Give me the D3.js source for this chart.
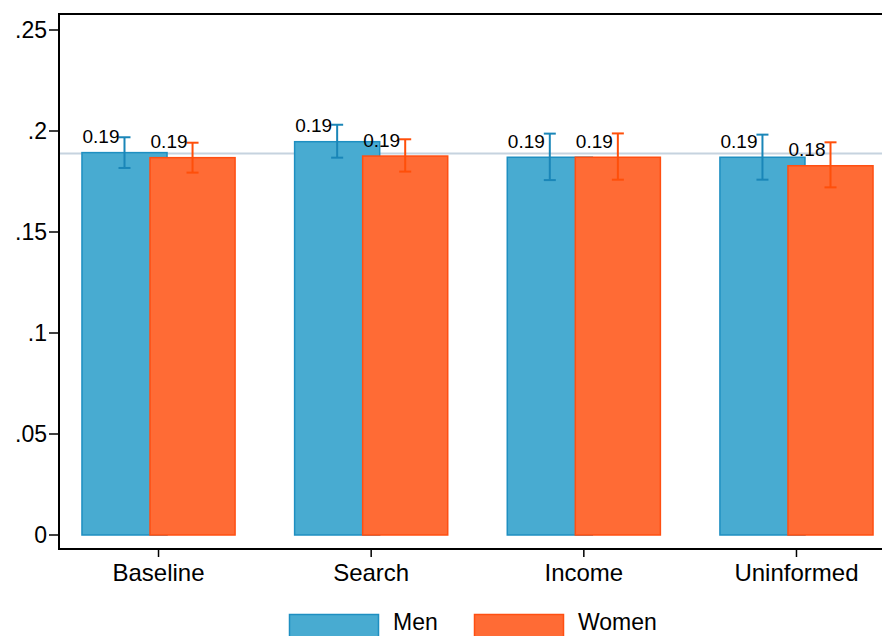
<!DOCTYPE html>
<html>
<head>
<meta charset="utf-8">
<script src="https://cdn.jsdelivr.net/npm/d3@7/dist/d3.min.js"></script>
<style>
  html, body { margin: 0; padding: 0; background: #fff; }
  svg { display: block; }
  text { font-family: "Liberation Sans", Arial, Helvetica, sans-serif; fill: #000; }
</style>
</head>
<body>
<svg id="chart" width="882" height="636"></svg>
<script>
// ---- data ----
const categories = ["Baseline", "Search", "Income", "Uninformed"];
const series = ["Men", "Women"];
const menMean  = [0.1893, 0.1947, 0.1870, 0.1870];
const menLo    = [0.1817, 0.1868, 0.1757, 0.1759];
const menHi    = [0.1969, 0.2031, 0.1987, 0.1982];
const womenMean = [0.1868, 0.1876, 0.1870, 0.1828];
const womenLo   = [0.1794, 0.1799, 0.1759, 0.1721];
const womenHi   = [0.1942, 0.1959, 0.1988, 0.1944];
const menLabels   = ["0.19", "0.19", "0.19", "0.19"];
const womenLabels = ["0.19", "0.19", "0.19", "0.18"];
const refLine = 0.1889;
const yTicks = [0, 0.05, 0.1, 0.15, 0.2, 0.25];
const yTickLabels = ["0", ".05", ".1", ".15", ".2", ".25"];

// ---- layout ----
const W = 882, H = 636;
const plot = { left: 59, right: 896, top: 14, bottom: 549 };
const colors = {
  Men:   { fill: "#48abd1", stroke: "#1e8fc1", err: "#1a86b8" },
  Women: { fill: "#ff6b35", stroke: "#ff4f12", err: "#ff4f0a" }
};

const svg = d3.select("#chart");

const x = d3.scalePoint().domain(categories).range([plot.left, plot.right]).padding(0.468);
const step = x.step();
const barW = step * 0.4;
const offset = { Men: -step * 0.16, Women: step * 0.16 };
const y = d3.scaleLinear().domain([0, 0.25]).range([535, 30]);

// reference line (behind bars)
svg.append("line")
  .attr("x1", plot.left).attr("x2", plot.right)
  .attr("y1", y(refLine)).attr("y2", y(refLine))
  .attr("stroke", "#c6d3df").attr("stroke-width", 2);

const rows = series.map(s => ({
  name: s,
  mean: s === "Men" ? menMean : womenMean,
  lo: s === "Men" ? menLo : womenLo,
  hi: s === "Men" ? menHi : womenHi,
  labels: s === "Men" ? menLabels : womenLabels
}));

rows.forEach(r => {
  const g = svg.append("g");
  const c = colors[r.name];
  g.selectAll("rect").data(categories).join("rect")
    .attr("x", (d) => x(d) + offset[r.name] - barW / 2)
    .attr("width", barW)
    .attr("y", (d, i) => y(r.mean[i]))
    .attr("height", (d, i) => y(0) - y(r.mean[i]))
    .attr("fill", c.fill)
    .attr("stroke", c.stroke)
    .attr("stroke-width", 1.5);
});

// error bars and labels
rows.forEach(r => {
  const c = colors[r.name];
  const g = svg.append("g");
  categories.forEach((cat, i) => {
    const cx = x(cat) + offset[r.name];
    g.append("line").attr("x1", cx).attr("x2", cx)
      .attr("y1", y(r.lo[i])).attr("y2", y(r.hi[i]))
      .attr("stroke", c.err).attr("stroke-width", 2);
    [r.lo[i], r.hi[i]].forEach(v => {
      g.append("line").attr("x1", cx - 6).attr("x2", cx + 6)
        .attr("y1", y(v)).attr("y2", y(v))
        .attr("stroke", c.err).attr("stroke-width", 2);
    });
    g.append("text")
      .attr("x", cx - 5)
      .attr("y", y(r.mean[i]) - 9.5)
      .attr("text-anchor", "end")
      .attr("font-size", 19)
      .text(r.labels[i]);
  });
});

// frame / axes
svg.append("line").attr("x1", plot.left).attr("x2", W + 20)
  .attr("y1", plot.top).attr("y2", plot.top)
  .attr("stroke", "#000").attr("stroke-width", 2);
svg.append("line").attr("x1", plot.left).attr("x2", plot.left)
  .attr("y1", plot.top - 1).attr("y2", plot.bottom + 1)
  .attr("stroke", "#000").attr("stroke-width", 2);
svg.append("line").attr("x1", plot.left - 1).attr("x2", W + 20)
  .attr("y1", plot.bottom).attr("y2", plot.bottom)
  .attr("stroke", "#000").attr("stroke-width", 2);

// y ticks
const yAx = svg.append("g");
yTicks.forEach((t, i) => {
  yAx.append("line").attr("x1", plot.left - 10).attr("x2", plot.left)
    .attr("y1", y(t)).attr("y2", y(t)).attr("stroke", "#000").attr("stroke-width", 1.5);
  yAx.append("text").attr("x", plot.left - 12).attr("y", y(t))
    .attr("dy", "0.36em").attr("text-anchor", "end").attr("font-size", 23)
    .text(yTickLabels[i]);
});

// x ticks
const xAx = svg.append("g");
categories.forEach(cat => {
  xAx.append("line").attr("x1", x(cat)).attr("x2", x(cat))
    .attr("y1", plot.bottom).attr("y2", plot.bottom + 8)
    .attr("stroke", "#000").attr("stroke-width", 1.5);
  xAx.append("text").attr("x", x(cat)).attr("y", 581)
    .attr("text-anchor", "middle").attr("font-size", 24).text(cat);
});

// legend
const legend = svg.append("g");
const legendItems = [
  { name: "Men", x0: 289.5, tx: 393 },
  { name: "Women", x0: 474.5, tx: 578 }
];
legendItems.forEach(it => {
  const c = colors[it.name];
  legend.append("rect").attr("x", it.x0).attr("y", 614.5)
    .attr("width", 89).attr("height", 30)
    .attr("fill", c.fill).attr("stroke", c.stroke).attr("stroke-width", 1.5);
  legend.append("text").attr("x", it.tx).attr("y", 630)
    .attr("font-size", 23).text(it.name);
});
</script>
</body>
</html>
